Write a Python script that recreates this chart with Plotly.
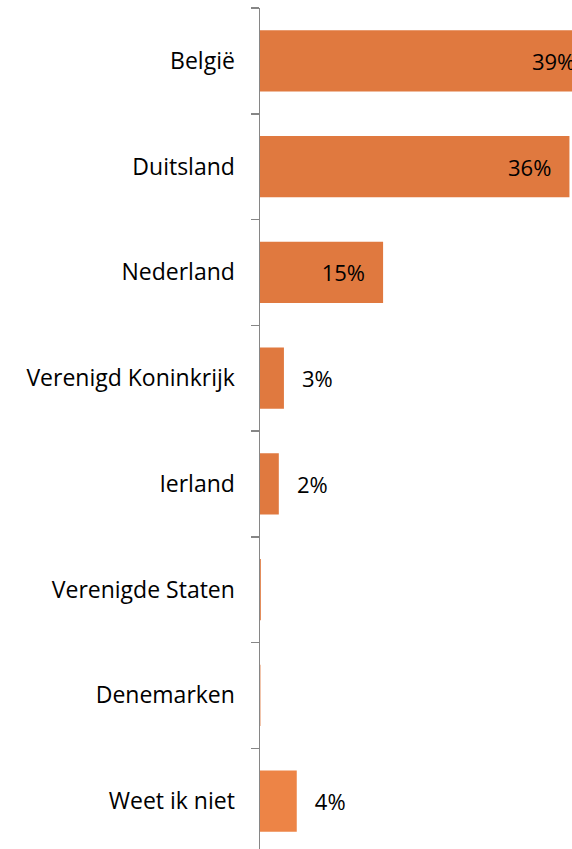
import plotly.graph_objects as go

categories = ["België", "Duitsland", "Nederland", "Verenigd Koninkrijk",
              "Ierland", "Verenigde Staten", "Denemarken", "Weet ik niet"]
values = [39.0, 36.2, 14.4, 2.8, 2.2, 0.1, 0.05, 4.3]
value_labels = ["39%", "36%", "15%", "3%", "2%", "", "", "4%"]
label_positions = ["inside", "inside", "inside", "outside", "outside",
                   "none", "none", "outside"]
bar_colors = ["#E0793F"] * 7 + ["#ED8446"]

FONT = "Open Sans, Carlito, Calibri, sans-serif"
PAD = "\u00a0\u00a0\u2009"
texts = []
for lab, pos in zip(value_labels, label_positions):
    if pos == "inside":
        texts.append(lab + PAD)
    elif pos == "outside":
        texts.append(PAD + lab)
    else:
        texts.append("")

fig = go.Figure(
    go.Bar(
        x=values,
        y=categories,
        orientation="h",
        marker=dict(color=bar_colors, line=dict(width=0)),
        text=texts,
        textposition=label_positions,
        insidetextanchor="end",
        textfont=dict(family=FONT, size=22, color="#000000"),
        insidetextfont=dict(family=FONT, size=22, color="#000000"),
        outsidetextfont=dict(family=FONT, size=22, color="#000000"),
        constraintext="none",
        cliponaxis=True,
        hoverinfo="skip",
    )
)

fig.update_layout(
    width=572,
    height=854,
    margin=dict(l=260, r=0, t=8, b=0),
    paper_bgcolor="white",
    plot_bgcolor="white",
    bargap=0.42,
    showlegend=False,
    font=dict(family=FONT, size=22, color="#000000"),
)

fig.update_xaxes(
    range=[0, 36.5],
    showgrid=False,
    zeroline=False,
    showticklabels=False,
    ticks="",
    showline=False,
    fixedrange=True,
)

fig.update_yaxes(
    autorange="reversed",
    showgrid=False,
    zeroline=False,
    showline=True,
    linecolor="#868686",
    linewidth=1.5,
    ticks="outside",
    ticklen=8,
    tickwidth=1.5,
    tickcolor="#868686",
    tickson="boundaries",
    ticklabelstandoff=19,
    tickfont=dict(family=FONT, size=23, color="#000000"),
    fixedrange=True,
)

fig.write_html(
    "out.html",
    config={"displayModeBar": False, "staticPlot": True},
    post_script="document.body.style.margin='0';document.body.style.overflow='hidden';",
)
